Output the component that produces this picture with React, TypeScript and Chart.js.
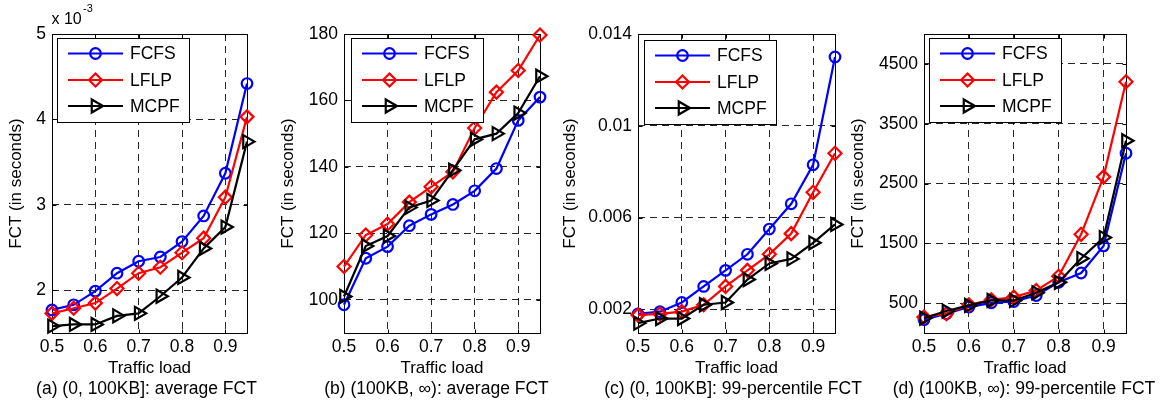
import React, { useEffect, useRef } from 'react';
import { Chart, registerables } from 'chart.js';

Chart.register(...registerables);

const FONT = '"Liberation Sans", Arial, sans-serif';
Chart.defaults.font.family = FONT;

// ---------- data ----------
const LOADS = [0.5, 0.55, 0.6, 0.65, 0.7, 0.75, 0.8, 0.85, 0.9, 0.95];
const X_TICKS = [0.5, 0.6, 0.7, 0.8, 0.9];
const X_TICK_LABELS = ['0.5', '0.6', '0.7', '0.8', '0.9'];
const SERIES_NAMES = ['FCFS', 'LFLP', 'MCPF'];

// (a) values in units of 1e-3 s
const A_FCFS = [1.77, 1.83, 1.99, 2.2, 2.34, 2.39, 2.57, 2.87, 3.37, 4.42];
const A_LFLP = [1.73, 1.79, 1.85, 2.02, 2.2, 2.27, 2.44, 2.61, 3.09, 4.03];
const A_MCPF = [1.58, 1.6, 1.6, 1.7, 1.73, 1.93, 2.15, 2.49, 2.74, 3.74];
const A_TICKS = [2, 3, 4, 5];
const A_TICK_LABELS = ['2', '3', '4', '5'];

const B_FCFS = [98.5, 112.5, 116, 122.3, 125.7, 128.7, 132.8, 139.5, 154, 161];
const B_LFLP = [110, 119.5, 122.8, 129.4, 134, 138.5, 151.7, 162.5, 169, 179.7];
const B_MCPF = [101, 116.2, 119.2, 127.8, 129.9, 139, 148.3, 150, 156.2, 167.3];
const B_TICKS = [100, 120, 140, 160, 180];
const B_TICK_LABELS = ['100', '120', '140', '160', '180'];

const C_FCFS = [0.0018, 0.0019, 0.0023, 0.003, 0.0037, 0.0044, 0.0055, 0.0066, 0.0083, 0.013];
const C_LFLP = [0.00175, 0.0018, 0.0019, 0.0022, 0.003, 0.0037, 0.0044, 0.0053, 0.0071, 0.0088];
const C_MCPF = [0.0014, 0.0016, 0.0016, 0.0022, 0.0023, 0.0033, 0.004, 0.0042, 0.0049, 0.0057];
const C_TICKS = [0.002, 0.006, 0.01, 0.014];
const C_TICK_LABELS = ['0.002', '0.006', '0.01', '0.014'];

const D_FCFS = [224, 323, 434, 505, 527, 627, 848, 1003, 1457, 3006];
const D_LFLP = [268, 323, 472, 555, 600, 710, 948, 1650, 2611, 4200];
const D_MCPF = [250, 367, 461, 544, 544, 672, 848, 1245, 1595, 3216];
const D_TICKS = [500, 1500, 2500, 3500, 4500];
const D_TICK_LABELS = ['500', '1500', '2500', '3500', '4500'];

const CAPTIONS = [
  '(a) (0, 100KB]: average FCT',
  '(b) (100KB, \u221E): average FCT',
  '(c) (0, 100KB]: 99-percentile FCT',
  '(d) (100KB, \u221E): 99-percentile FCT',
];

// ---------- styles / layout ----------
const W = 1166;
const H = 408;
const SERIES_STYLE = [
  { color: '#0000ff', point: 'circle', radius: 5.3, rotation: 0 },
  { color: '#ff0000', point: 'rectRot', radius: 6.5, rotation: 0 },
  { color: '#000000', point: 'triangle', radius: 7.5, rotation: 90 },
];

type PanelCfg = {
  series: number[][];
  yMin: number;
  yMax: number;
  yTicks: number[];
  yLabels: string[];
  caption: string;
  plotLeft: number;
  plotRight: number;
  titleX: number;
  legendX: number;
  legendY: number;
  captionX: number;
};

const PANELS: PanelCfg[] = [
  { series: [A_FCFS, A_LFLP, A_MCPF], yMin: 1.5, yMax: 5, yTicks: A_TICKS, yLabels: A_TICK_LABELS, caption: CAPTIONS[0],
    plotLeft: 52, plotRight: 247, titleX: 16.7, legendX: 57, legendY: 38, captionX: 146.5 },
  { series: [B_FCFS, B_LFLP, B_MCPF], yMin: 90, yMax: 180, yTicks: B_TICKS, yLabels: B_TICK_LABELS, caption: CAPTIONS[1],
    plotLeft: 344, plotRight: 540, titleX: 288.5, legendX: 351, legendY: 38, captionX: 436.5 },
  { series: [C_FCFS, C_LFLP, C_MCPF], yMin: 0.00097, yMax: 0.014, yTicks: C_TICKS, yLabels: C_TICK_LABELS, caption: CAPTIONS[2],
    plotLeft: 638, plotRight: 835, titleX: 570, legendX: 644, legendY: 40, captionX: 733 },
  { series: [D_FCFS, D_LFLP, D_MCPF], yMin: 0, yMax: 5000, yTicks: D_TICKS, yLabels: D_TICK_LABELS, caption: CAPTIONS[3],
    plotLeft: 924, plotRight: 1126, titleX: 858, legendX: 929, legendY: 38, captionX: 1024 },
];

const PLOT_TOP = 34;
const BOTTOM_PAD = 29;
const X_AXIS_H = 46;
const TITLE_LH = 20.4;
const TICK_FONT = 17.5;

function drawMarker(ctx: CanvasRenderingContext2D, kind: string, x: number, y: number, r: number, rotDeg: number) {
  ctx.beginPath();
  if (kind === 'circle') {
    ctx.arc(x, y, r, 0, Math.PI * 2);
  } else if (kind === 'rectRot') {
    ctx.moveTo(x - r, y);
    ctx.lineTo(x, y - r);
    ctx.lineTo(x + r, y);
    ctx.lineTo(x, y + r);
  } else {
    let rad = (rotDeg * Math.PI) / 180;
    ctx.moveTo(x + Math.sin(rad) * r, y - Math.cos(rad) * r);
    rad += (2 * Math.PI) / 3;
    ctx.lineTo(x + Math.sin(rad) * r, y - Math.cos(rad) * r);
    rad += (2 * Math.PI) / 3;
    ctx.lineTo(x + Math.sin(rad) * r, y - Math.cos(rad) * r);
  }
  ctx.closePath();
  ctx.stroke();
}

const boxPlugin = {
  id: 'matlabBox',
  beforeDatasetsDraw(chart: any) {
    const { ctx, chartArea } = chart;
    const l = Math.round(chartArea.left) + 0.5;
    const r = Math.round(chartArea.right) + 0.5;
    const t = Math.round(chartArea.top) + 0.5;
    const b = Math.round(chartArea.bottom) + 0.5;
    ctx.save();
    ctx.strokeStyle = '#000';
    ctx.lineWidth = 1;
    ctx.setLineDash([]);
    ctx.strokeRect(l, t, r - l, b - t);
    const tl = 4;
    ctx.beginPath();
    chart.scales.x.ticks.forEach((tk: any) => {
      const px = Math.round(chart.scales.x.getPixelForValue(tk.value)) + 0.5;
      ctx.moveTo(px, b); ctx.lineTo(px, b - tl);
      ctx.moveTo(px, t); ctx.lineTo(px, t + tl);
    });
    chart.scales.y.ticks.forEach((tk: any) => {
      const py = Math.round(chart.scales.y.getPixelForValue(tk.value)) + 0.5;
      ctx.moveTo(l, py); ctx.lineTo(l + tl, py);
      ctx.moveTo(r, py); ctx.lineTo(r - tl, py);
    });
    ctx.stroke();
    ctx.restore();
  },
};

function makeLegendPlugin(cfg: PanelCfg) {
  return {
    id: 'boxedLegend',
    afterDraw(chart: any) {
      const { ctx } = chart;
      const x0 = cfg.legendX + 0.5;
      const y0 = cfg.legendY + 0.5;
      const w = 132;
      const h = 84;
      ctx.save();
      ctx.setLineDash([]);
      ctx.fillStyle = '#fff';
      ctx.fillRect(x0, y0, w, h);
      ctx.strokeStyle = '#000';
      ctx.lineWidth = 1;
      ctx.strokeRect(x0, y0, w, h);
      const rows = [15.5, 42, 68];
      SERIES_NAMES.forEach((name, i) => {
        const st = SERIES_STYLE[i];
        const yy = cfg.legendY + rows[i];
        ctx.strokeStyle = st.color;
        ctx.lineWidth = 2.2;
        ctx.beginPath();
        ctx.moveTo(cfg.legendX + 11, yy);
        ctx.lineTo(cfg.legendX + 66, yy);
        ctx.stroke();
        drawMarker(ctx, st.point, cfg.legendX + 38.5, yy, st.radius, st.rotation);
        ctx.fillStyle = '#000';
        ctx.font = `17.5px ${FONT}`;
        ctx.textBaseline = 'middle';
        ctx.textAlign = 'left';
        ctx.fillText(name, cfg.legendX + 73, yy + 1);
      });
      ctx.restore();
    },
  };
}

function Panel({ cfg }: { cfg: PanelCfg }) {
  const ref = useRef<HTMLCanvasElement>(null);
  useEffect(() => {
    const canvas = ref.current;
    if (!canvas) return;
    const padLeft = cfg.titleX - TITLE_LH / 2;
    const gridCommon = { color: 'rgba(0,0,0,0.85)', lineWidth: 1, drawTicks: false };
    const borderCommon = { display: false, dash: [7, 5] };
    const chart = new Chart(canvas, {
      type: 'line',
      data: {
        datasets: cfg.series.map((vals, i) => ({
          label: SERIES_NAMES[i],
          data: LOADS.map((x, j) => ({ x, y: vals[j] })),
          borderColor: SERIES_STYLE[i].color,
          backgroundColor: 'transparent',
          borderWidth: 2.2,
          pointStyle: SERIES_STYLE[i].point,
          pointRadius: SERIES_STYLE[i].radius,
          pointRotation: SERIES_STYLE[i].rotation,
          pointBorderWidth: 2.2,
          pointBorderColor: SERIES_STYLE[i].color,
          pointBackgroundColor: 'transparent',
          fill: false,
          tension: 0,
          clip: false,
          order: 2 - i,
        })),
      },
      options: {
        responsive: false,
        maintainAspectRatio: false,
        animation: false,
        devicePixelRatio: 1,
        events: [],
        layout: {
          padding: { left: padLeft, right: W - cfg.plotRight, top: PLOT_TOP, bottom: BOTTOM_PAD },
        },
        plugins: {
          legend: { display: false },
          tooltip: { enabled: false },
          title: { display: false },
        },
        scales: {
          x: {
            type: 'linear',
            min: 0.5,
            max: 0.95,
            afterBuildTicks: (s: any) => {
              s.ticks = X_TICKS.map((v) => ({ value: v }));
            },
            afterFit: (s: any) => {
              s.height = X_AXIS_H;
            },
            ticks: {
              padding: 4,
              color: '#000',
              font: { size: TICK_FONT },
              maxRotation: 0,
              autoSkip: false,
              callback: (_v: any, i: number) => X_TICK_LABELS[i],
            },
            grid: gridCommon,
            border: borderCommon,
            title: {
              display: true,
              text: 'Traffic load',
              color: '#000',
              font: { size: 17 },
              padding: { top: 0, bottom: 0 },
            },
          },
          y: {
            type: 'linear',
            min: cfg.yMin,
            max: cfg.yMax,
            afterBuildTicks: (s: any) => {
              s.ticks = cfg.yTicks.map((v) => ({ value: v }));
            },
            afterFit: (s: any) => {
              s.width = cfg.plotLeft - padLeft;
            },
            ticks: {
              padding: 6,
              color: '#000',
              font: { size: TICK_FONT },
              autoSkip: false,
              callback: (_v: any, i: number) => cfg.yLabels[i],
            },
            grid: gridCommon,
            border: borderCommon,
            title: {
              display: true,
              text: 'FCT (in seconds)',
              color: '#000',
              font: { size: 17 },
              padding: { top: 0, bottom: 0 },
            },
          },
        },
      },
      plugins: [boxPlugin, makeLegendPlugin(cfg)],
    } as any);
    return () => chart.destroy();
  }, [cfg]);
  return (
    <canvas
      ref={ref}
      width={W}
      height={H}
      style={{ position: 'absolute', left: 0, top: 0, width: W, height: H }}
    />
  );
}

export default function App() {
  return (
    <div style={{ position: 'absolute', left: 0, top: 0, width: W, height: H, background: '#fff', fontFamily: FONT, overflow: 'hidden' }}>
      {PANELS.map((p, i) => (
        <Panel key={i} cfg={p} />
      ))}
      <div style={{ position: 'absolute', left: 51.5, top: 10.5, fontSize: 16, lineHeight: '16px', color: '#000', whiteSpace: 'nowrap' }}>x 10</div>
      <div style={{ position: 'absolute', left: 83, top: 3.4, fontSize: 11, lineHeight: '11px', color: '#000', whiteSpace: 'nowrap' }}>-3</div>
      {PANELS.map((p, i) => (
        <div
          key={'cap' + i}
          style={{
            position: 'absolute',
            left: p.captionX - 200,
            width: 400,
            top: 377.7,
            fontSize: 17.5,
            lineHeight: '20px',
            textAlign: 'center',
            color: '#000',
            whiteSpace: 'nowrap',
          }}
        >
          {p.caption}
        </div>
      ))}
    </div>
  );
}
